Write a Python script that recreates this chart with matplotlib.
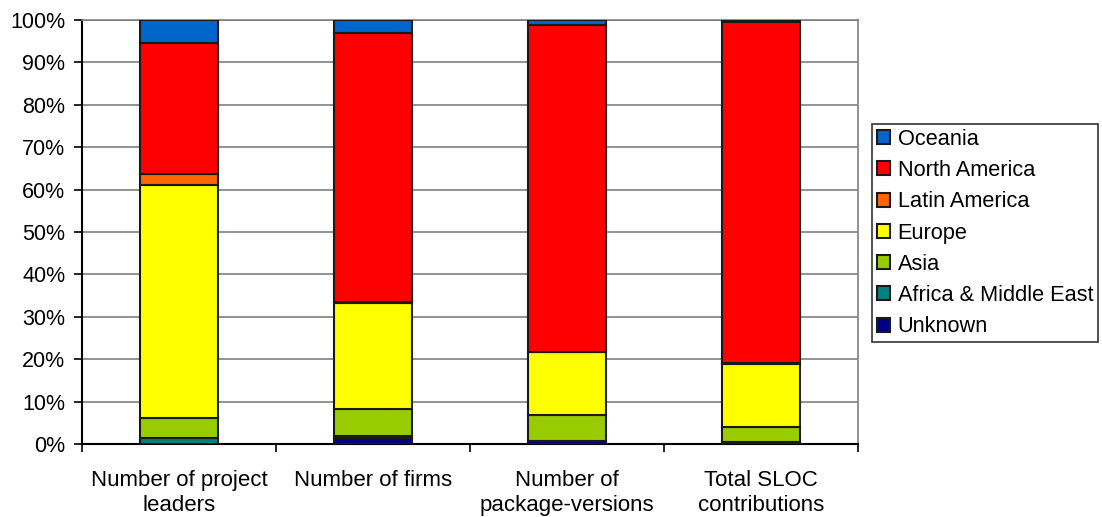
import numpy as np
import matplotlib.pyplot as plt
from matplotlib.ticker import FuncFormatter

plt.rcParams['font.family'] = ['Liberation Sans', 'DejaVu Sans']

# --- data (percent of each column) ---
categories = ['Number of project\nleaders', 'Number of firms',
              'Number of\npackage-versions', 'Total SLOC\ncontributions']
regions = ['Unknown', 'Africa & Middle East', 'Asia', 'Europe',
           'Latin America', 'North America', 'Oceania']
colors = ['#000080', '#008080', '#99CC00', '#FFFF00',
          '#FF6600', '#FF0000', '#0066CC']

unknown = [0.0, 1.3, 0.6, 0.3]
africa = [1.5, 0.6, 0.1, 0.1]
asia = [4.7, 6.3, 6.2, 3.5]
europe = [54.8, 25.1, 14.8, 15.0]
latin = [2.7, 0.3, 0.1, 0.1]
north_america = [30.9, 63.3, 77.0, 80.5]
oceania = [5.4, 3.1, 1.2, 0.5]

series = [unknown, africa, asia, europe, latin, north_america, oceania]

fig = plt.figure(figsize=(11.02, 5.17), dpi=100)
ax = fig.add_axes([82 / 1102, 1 - 444 / 517, 776 / 1102, 424 / 517])

x = np.arange(len(categories))
bottom = np.zeros(len(categories))
handles = []
for name, vals, c in zip(regions, series, colors):
    vals = np.array(vals)
    b = ax.bar(x, vals, width=0.4, bottom=bottom, color=c,
               edgecolor='#1a1a1a', linewidth=1.5, label=name, zorder=3)
    handles.append(b)
    bottom += vals

ax.set_xlim(-0.5, 3.5)
ax.set_ylim(0, 100)
ax.set_yticks(np.arange(0, 101, 10))
ax.yaxis.set_major_formatter(FuncFormatter(lambda v, p: f'{int(v)}%'))
ax.yaxis.grid(True, color='#808080', linewidth=1.2, zorder=0)

ax.set_xticks(x)
ax.set_xticklabels(categories, fontsize=16, linespacing=1.2)
ax.tick_params(axis='x', length=0, pad=19)
ax.set_xticks(np.arange(-0.5, 4, 1), minor=True)
ax.tick_params(axis='x', which='minor', length=6, width=1.2, direction='out')
ax.tick_params(axis='y', labelsize=15.5, length=6, width=1.2,
               direction='out', pad=6)

for s in ['left', 'bottom']:
    ax.spines[s].set_linewidth(1.5)
    ax.spines[s].set_color('black')
for s in ['top', 'right']:
    ax.spines[s].set_linewidth(1.2)
    ax.spines[s].set_color('#808080')

leg = fig.legend(handles[::-1], regions[::-1], loc='upper left',
                 bbox_to_anchor=(872 / 1102, 1 - 124 / 517),
                 fontsize=15.7, frameon=True, fancybox=False,
                 handlelength=0.6, handleheight=0.6, handletextpad=0.35,
                 labelspacing=0.47, borderpad=0.22, borderaxespad=0)
leg.get_frame().set_edgecolor('black')
leg.get_frame().set_linewidth(1.2)

fig.savefig('out.png', dpi=100)
